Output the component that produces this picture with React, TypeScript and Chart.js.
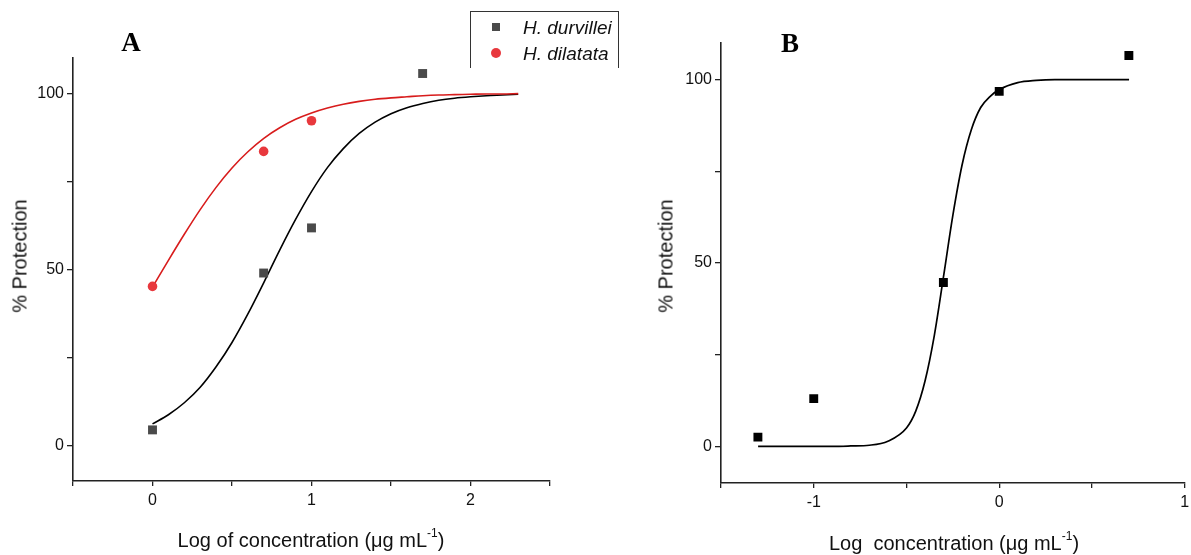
import React, { useEffect, useRef } from 'react';
import { Chart, registerables } from 'chart.js';

Chart.register(...registerables);

// ---------- Panel A data ----------
const durvilleiLogConc = [0, 0.699, 1, 1.699];
const durvilleiProtection = [4.5, 49.0, 61.8, 105.6];
const dilatataLogConc = [0, 0.699, 1];
const dilatataProtection = [45.2, 83.5, 92.2];

const fitLogConcA = [0, 0.1, 0.2, 0.3, 0.4, 0.5, 0.6, 0.7, 0.8, 0.9, 1.0, 1.1, 1.2, 1.3, 1.4, 1.5, 1.6, 1.7, 1.8, 1.9, 2.0, 2.1, 2.2, 2.3];
const durvilleiFit = [6.2, 8.8, 12.2, 16.6, 22.4, 29.3, 37.4, 46.3, 55.5, 64.2, 72.1, 78.9, 84.3, 88.6, 91.8, 94.2, 95.9, 97.1, 98.0, 98.6, 99.0, 99.3, 99.5, 99.7];
const dilatataFit = [45.0, 52.6, 60.0, 67.0, 73.3, 78.8, 83.4, 87.2, 90.2, 92.6, 94.4, 95.8, 96.9, 97.7, 98.3, 98.7, 99.0, 99.3, 99.5, 99.6, 99.7, 99.8, 99.8, 99.9];

const xTicksA = [0, 1, 2];
const yTicks = [0, 50, 100];

// ---------- Panel B data ----------
const logConcB = [-1.301, -1, -0.301, 0, 0.699];
const protectionB = [2.5, 13.0, 44.7, 96.8, 106.6];
const fitLogConcB = [-1.3, -1.2, -1.1, -1.0, -0.9, -0.8, -0.7, -0.6, -0.5, -0.45, -0.4, -0.35, -0.3, -0.25, -0.2, -0.15, -0.1, -0.05, 0, 0.1, 0.2, 0.3, 0.4, 0.5, 0.6, 0.7];
const fitB = [0, 0, 0, 0, 0, 0.1, 0.3, 1.4, 5.0, 9.6, 17.8, 30.2, 46.4, 63.0, 76.8, 86.4, 92.4, 95.4, 97.3, 99.2, 99.8, 100, 100, 100, 100, 100];

const xTicksB = [-1, 0, 1];

const seriesNames = ['H. durvillei', 'H. dilatata'];

const FONT = "'Liberation Sans', Arial, sans-serif";
const TICK_FONT = "'Liberation Sans Narrow', 'Arial Narrow', 'Liberation Sans', Arial, sans-serif";

const pts = (xs: number[], ys: number[]) => xs.map((x, i) => ({ x, y: ys[i] }));

function buildOptions(p: {
  xMin: number; xMax: number; xLabels: number[];
  padTop: number; padRight: number; yWidth: number; xHeight: number;
}): any {
  return {
    responsive: false,
    animation: false,
    events: [],
    layout: { padding: { left: 0, top: p.padTop, right: p.padRight, bottom: 0 } },
    plugins: { legend: { display: false }, tooltip: { enabled: false }, title: { display: false } },
    scales: {
      x: {
        type: 'linear',
        min: p.xMin,
        max: p.xMax,
        afterFit: (s: any) => {
          s.height = p.xHeight;
          s.paddingLeft = 0;
          s.paddingRight = 0;
        },
        grid: { display: true, drawOnChartArea: false, drawTicks: true, tickLength: 5, color: '#222', lineWidth: 1.3 },
        border: { display: true, color: '#222', width: 1.6 },
        ticks: {
          stepSize: 0.5,
          includeBounds: false,
          autoSkip: false,
          maxRotation: 0,
          padding: 5,
          color: '#111',
          font: { family: TICK_FONT, size: 16 },
          callback: (v: number) => {
            const m = p.xLabels.find((t) => Math.abs(t - v) < 1e-6);
            return m === undefined ? '' : String(m);
          },
        },
      },
      y: {
        type: 'linear',
        min: -10,
        max: 110,
        afterFit: (s: any) => { s.width = p.yWidth; },
        grid: { display: true, drawOnChartArea: false, drawTicks: true, tickLength: 6, color: '#222', lineWidth: 1.3 },
        border: { display: true, color: '#222', width: 1.6 },
        ticks: {
          stepSize: 25,
          includeBounds: false,
          autoSkip: false,
          padding: 3,
          color: '#111',
          font: { family: TICK_FONT, size: 16 },
          callback: (v: number) => {
            const m = yTicks.find((t) => Math.abs(t - v) < 1e-6);
            return m === undefined ? '' : String(m);
          },
        },
      },
    },
  };
}

function ChartCanvas({ config, width, height, left }: { config: () => any; width: number; height: number; left: number }) {
  const ref = useRef<HTMLCanvasElement | null>(null);
  useEffect(() => {
    if (!ref.current) return;
    const chart = new Chart(ref.current, config());
    return () => chart.destroy();
  }, []);
  return (
    <canvas
      ref={ref}
      width={width}
      height={height}
      style={{ position: 'absolute', left, top: 0, width, height }}
    />
  );
}

const configA = () => ({
  type: 'scatter',
  data: {
    datasets: [
      {
        label: seriesNames[0] + ' fit',
        data: pts(fitLogConcA, durvilleiFit),
        showLine: true,
        pointRadius: 0,
        borderColor: '#000',
        borderWidth: 1.6,
        cubicInterpolationMode: 'monotone',
        order: 3,
      },
      {
        label: seriesNames[1] + ' fit',
        data: pts(fitLogConcA, dilatataFit),
        showLine: true,
        pointRadius: 0,
        borderColor: '#d81c1c',
        borderWidth: 1.6,
        cubicInterpolationMode: 'monotone',
        order: 2,
      },
      {
        label: seriesNames[0],
        data: pts(durvilleiLogConc, durvilleiProtection),
        pointStyle: 'rect',
        pointRadius: 6.3,
        backgroundColor: '#4a4a4a',
        borderColor: '#4a4a4a',
        borderWidth: 0,
        order: 1,
      },
      {
        label: seriesNames[1],
        data: pts(dilatataLogConc, dilatataProtection),
        pointStyle: 'circle',
        pointRadius: 4.8,
        backgroundColor: '#e8383d',
        borderColor: '#e8383d',
        borderWidth: 0,
        order: 0,
      },
    ],
  },
  options: buildOptions({ xMin: -0.5, xMax: 2.5, xLabels: xTicksA, padTop: 58, padRight: 50, yWidth: 73, xHeight: 74 }),
});

const configB = () => ({
  type: 'scatter',
  data: {
    datasets: [
      {
        label: 'fit',
        data: pts(fitLogConcB, fitB),
        showLine: true,
        pointRadius: 0,
        borderColor: '#000',
        borderWidth: 1.7,
        cubicInterpolationMode: 'monotone',
        order: 1,
      },
      {
        label: 'data',
        data: pts(logConcB, protectionB),
        pointStyle: 'rect',
        pointRadius: 6.3,
        backgroundColor: '#000',
        borderColor: '#000',
        borderWidth: 0,
        order: 0,
      },
    ],
  },
  options: buildOptions({ xMin: -1.5, xMax: 1, xLabels: xTicksB, padTop: 43, padRight: 4, yWidth: 121, xHeight: 72 }),
});

const centered = (x: number, y: number, extra: React.CSSProperties = {}): React.CSSProperties => ({
  position: 'absolute',
  left: x,
  top: y,
  transform: 'translate(-50%, -50%)',
  whiteSpace: 'nowrap',
  fontFamily: FONT,
  color: '#111',
  lineHeight: 'normal',
  ...extra,
});

const supStyle: React.CSSProperties = { fontSize: 12, verticalAlign: 'top', position: 'relative', top: -3 };

export default function App() {
  return (
    <div style={{ position: 'absolute', left: 0, top: 0, width: 1191, height: 555, background: '#fff', overflow: 'hidden' }}>
      <ChartCanvas config={configA} width={600} height={555} left={0} />
      <ChartCanvas config={configB} width={591} height={555} left={600} />

      {/* Panel letters */}
      <div style={centered(131, 42, { fontFamily: "'Liberation Serif', 'Times New Roman', serif", fontWeight: 'bold', fontSize: 27, color: '#000' })}>A</div>
      <div style={centered(790, 43, { fontFamily: "'Liberation Serif', 'Times New Roman', serif", fontWeight: 'bold', fontSize: 27, color: '#000' })}>B</div>

      {/* Axis titles */}
      <div style={centered(20, 256, { fontSize: 20, transform: 'translate(-50%, -50%) rotate(-90deg)' })}>% Protection</div>
      <div style={centered(666, 256, { fontSize: 20, transform: 'translate(-50%, -50%) rotate(-90deg)' })}>% Protection</div>
      <div style={centered(311, 540, { fontSize: 20 })}>
        Log of concentration (μg mL<sup style={supStyle}>-1</sup>)
      </div>
      <div style={centered(954, 543, { fontSize: 20 })}>
        Log&nbsp; concentration (μg mL<sup style={supStyle}>-1</sup>)
      </div>

      {/* Legend */}
      <div
        style={{
          position: 'absolute',
          left: 470,
          top: 11,
          width: 149,
          height: 57,
          borderTop: '1px solid #333',
          borderLeft: '1px solid #333',
          borderRight: '1px solid #333',
          boxSizing: 'border-box',
          background: '#fff',
        }}
      >
        <div style={{ position: 'absolute', left: 20.5, top: 11, width: 8, height: 8, background: '#4a4a4a' }} />
        <div style={{ position: 'absolute', left: 20, top: 36, width: 10, height: 10, borderRadius: '50%', background: '#e8383d' }} />
        <div style={{ position: 'absolute', left: 52, top: 4.5, fontFamily: FONT, fontStyle: 'italic', fontSize: 19, lineHeight: 'normal', color: '#111', whiteSpace: 'nowrap' }}>{seriesNames[0]}</div>
        <div style={{ position: 'absolute', left: 52, top: 30.5, fontFamily: FONT, fontStyle: 'italic', fontSize: 19, lineHeight: 'normal', color: '#111', whiteSpace: 'nowrap' }}>{seriesNames[1]}</div>
      </div>
    </div>
  );
}
